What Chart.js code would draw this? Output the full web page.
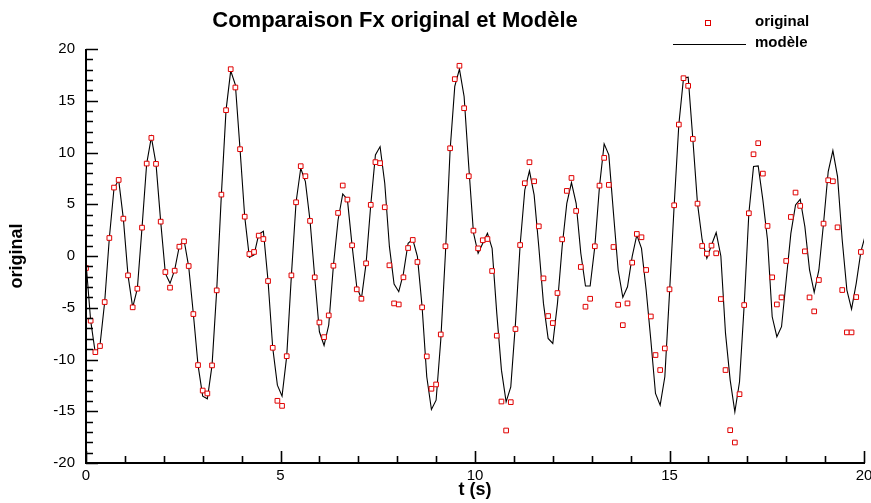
<!DOCTYPE html>
<html>
<head>
<meta charset="utf-8">
<script src="https://cdn.jsdelivr.net/npm/chart.js@4.4.0/dist/chart.umd.min.js"></script>
<style>
html,body{margin:0;padding:0;background:#fff;}
#wrap{width:871px;height:503px;}
</style>
</head>
<body>
<div id="wrap"><canvas id="c" width="871" height="503"></canvas></div>
<script>
// sampling step of the series (s)
const timeStep = 0.12;

// "original" series (red squares)
const original = [
-1.16,-6.25,-9.29,-8.70,-4.45,1.74,6.61,7.35,3.61,-1.87,
-4.96,-3.16,2.74,8.93,11.41,8.90,3.32,-1.55,-3.06,-1.42,
0.90,1.42,-0.97,-5.61,-10.54,-13.00,-13.28,-10.57,-3.32,5.93,
14.09,18.05,16.28,10.32,3.80,0.19,0.39,1.97,1.64,-2.42,
-8.87,-13.99,-14.48,-9.68,-1.87,5.19,8.68,7.71,3.39,-2.06,
-6.42,-7.84,-5.74,-0.94,4.16,6.81,5.45,1.03,-3.22,-4.13,
-0.71,4.94,9.07,8.97,4.71,-0.90,-4.58,-4.68,-2.06,0.77,
1.55,-0.58,-4.96,-9.70,-12.83,-12.41,-7.58,0.94,10.41,17.09,
18.38,14.28,7.71,2.45,0.74,1.52,1.64,-1.45,-7.70,-14.06,
-16.86,-14.12,-7.06,1.06,7.03,9.06,7.22,2.87,-2.16,-5.80,
-6.48,-3.58,1.61,6.29,7.54,4.35,-1.06,-4.90,-4.13,0.94,
6.80,9.48,6.87,0.87,-4.71,-6.68,-4.58,-0.64,2.13,1.81,
-1.35,-5.84,-9.57,-11.02,-8.93,-3.22,4.90,12.70,17.18,16.44,
11.31,5.06,0.97,0.23,1.00,0.26,-4.16,-11.02,-16.83,-18.02,
-13.35,-4.74,4.13,9.83,10.90,7.96,2.90,-2.06,-4.68,-4.00,
-0.48,3.77,6.13,4.84,0.45,-4.00,-5.35,-2.32,3.13,7.32,
7.22,2.77,-3.29,-7.38,-7.38,-3.97,0.39
];

// "modèle" series (black line)
const modele = [
-0.60,-6.25,-9.41,-8.61,-4.45,1.74,6.54,7.35,3.61,-1.87,
-4.96,-3.16,2.74,8.93,11.48,8.90,3.32,-1.68,-2.64,-1.35,
0.97,1.55,-1.03,-5.61,-10.54,-13.54,-13.80,-10.57,-3.32,5.93,
14.09,17.89,16.54,10.32,3.80,-0.13,0.10,2.10,2.39,-2.42,
-8.87,-12.48,-13.54,-9.67,-1.87,5.19,8.48,7.19,3.38,-2.06,
-7.32,-8.64,-6.67,-0.93,3.48,6.00,5.45,1.03,-2.97,-4.13,
-0.71,4.93,9.77,10.57,7.03,0.90,-2.71,-3.45,-1.68,1.23,
1.61,-0.06,-4.90,-11.67,-14.83,-13.93,-8.12,0.26,10.25,16.38,
18.05,15.41,8.64,2.26,0.26,1.23,2.19,0.74,-5.54,-11.03,
-14.09,-12.64,-6.51,1.06,6.38,8.22,5.90,0.90,-4.58,-7.96,
-8.45,-4.58,0.90,5.09,7.09,5.09,0.26,-2.90,-2.90,0.90,
6.71,10.83,9.77,4.13,-1.35,-4.00,-2.97,-0.06,2.03,0.74,
-3.29,-8.12,-13.28,-14.41,-11.67,-3.61,4.90,12.70,17.18,17.28,
11.31,5.06,1.55,-0.23,1.06,2.26,0.00,-7.48,-11.99,-15.05,
-12.15,-4.74,4.13,8.64,8.70,5.42,1.55,-5.87,-7.80,-6.83,
-2.32,2.19,4.93,5.48,2.84,-1.35,-3.51,-1.35,3.16,8.16,
10.19,7.67,1.55,-3.29,-5.13,-2.64,0.42,2.10
];

// axis ticks
const xTicks = [0, 5, 10, 15, 20];
const yTicks = [-20, -15, -10, -5, 0, 5, 10, 15, 20];
const xMinorStep = 1;
const yMinorStep = 1;

const titleText = 'Comparaison Fx original et Modèle';
const xTitle = 't (s)';
const yTitle = 'original';
const seriesNames = ['original', 'modèle'];

const FONT = '"Liberation Sans", Arial, Helvetica, sans-serif';
Chart.defaults.font.family = FONT;
Chart.defaults.color = '#000';

const toPts = arr => arr.map((v, i) => ({ x: +(i * timeStep).toFixed(2), y: v }));

const decor = {
  id: 'decor',
  afterDatasetsDraw(chart) {
    const ctx = chart.ctx;
    const xs = chart.scales.x, ys = chart.scales.y;
    const a = chart.chartArea;
    ctx.save();
    ctx.strokeStyle = '#000';
    ctx.fillStyle = '#000';
    // axis lines
    ctx.lineWidth = 2;
    ctx.beginPath();
    ctx.moveTo(a.left, a.top);
    ctx.lineTo(a.left, a.bottom);
    ctx.lineTo(a.right + 1, a.bottom);
    ctx.stroke();
    // y ticks (inward)
    ctx.lineWidth = 1.6;
    ctx.beginPath();
    for (let v = ys.min; v <= ys.max + 1e-9; v += yMinorStep) {
      const major = yTicks.includes(Math.round(v));
      const py = Math.round(ys.getPixelForValue(v)) + 0.5;
      ctx.moveTo(a.left, py);
      ctx.lineTo(a.left + (major ? 12 : 7), py);
    }
    // x ticks (inward)
    for (let v = xs.min; v <= xs.max + 1e-9; v += xMinorStep) {
      const major = xTicks.includes(Math.round(v));
      const px = Math.round(xs.getPixelForValue(v)) + 0.5;
      ctx.moveTo(px, a.bottom);
      ctx.lineTo(px, a.bottom - (major ? 12 : 7));
    }
    ctx.stroke();

    // title
    ctx.textAlign = 'center';
    ctx.textBaseline = 'middle';
    ctx.font = 'bold 22px ' + FONT;
    ctx.fillText(titleText, 395, 21);

    // axis titles
    ctx.font = 'bold 18px ' + FONT;
    ctx.fillText(xTitle, (a.left + a.right) / 2, 490);
    ctx.save();
    ctx.translate(17, (a.top + a.bottom) / 2);
    ctx.rotate(-Math.PI / 2);
    ctx.fillText(yTitle, 0, 0);
    ctx.restore();

    // legend
    ctx.textAlign = 'left';
    ctx.font = 'bold 15px ' + FONT;
    ctx.strokeStyle = '#e00000';
    ctx.lineWidth = 1;
    ctx.strokeRect(705.5, 20.5, 5, 5);
    ctx.fillText(seriesNames[0], 755, 22);
    ctx.strokeStyle = '#000';
    ctx.beginPath();
    ctx.moveTo(673, 44.5);
    ctx.lineTo(746, 44.5);
    ctx.stroke();
    ctx.fillText(seriesNames[1], 755, 43);
    ctx.restore();
  }
};

new Chart(document.getElementById('c'), {
  type: 'scatter',
  data: {
    datasets: [
      {
        label: seriesNames[0],
        data: toPts(original),
        showLine: false,
        pointStyle: 'rect',
        pointRadius: 3.3,
        pointBorderWidth: 1,
        pointBorderColor: '#e00000',
        pointBackgroundColor: '#ffffff',
        borderColor: '#e00000',
        backgroundColor: '#ffffff'
      },
      {
        label: seriesNames[1],
        data: toPts(modele),
        showLine: true,
        borderColor: '#000',
        borderWidth: 1.1,
        pointRadius: 0,
        tension: 0,
        fill: false
      }
    ]
  },
  options: {
    responsive: false,
    animation: false,
    devicePixelRatio: 1,
    layout: { padding: { left: 0, right: 7, top: 49, bottom: 0 } },
    plugins: { legend: { display: false }, title: { display: false }, tooltip: { enabled: false } },
    scales: {
      x: {
        type: 'linear',
        min: 0, max: 20,
        grid: { display: false, drawTicks: false },
        border: { display: false },
        afterBuildTicks: s => { s.ticks = xTicks.map(v => ({ value: v })); },
        ticks: { font: { size: 15 }, color: '#000', padding: 4, maxRotation: 0 },
        afterFit: s => { s.height = 40; s.paddingRight = 0; s.paddingLeft = 0; }
      },
      y: {
        type: 'linear',
        min: -20, max: 20,
        grid: { display: false, drawTicks: false },
        border: { display: false },
        afterBuildTicks: s => { s.ticks = yTicks.map(v => ({ value: v })); },
        ticks: { font: { size: 15 }, color: '#000', padding: 11 },
        afterFit: s => { s.width = 86; s.paddingTop = 0; s.paddingBottom = 0; }
      }
    }
  },
  plugins: [decor]
});
</script>
</body>
</html>
